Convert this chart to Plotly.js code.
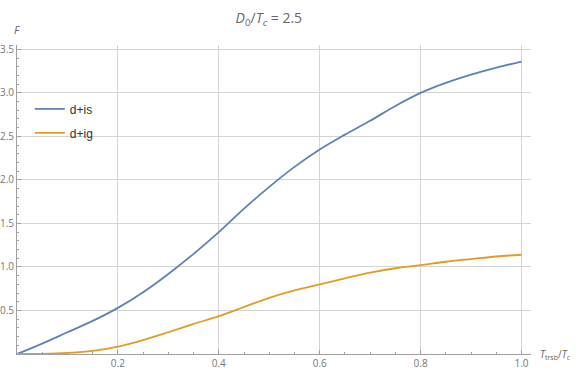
<!DOCTYPE html>
<html>
<head>
<meta charset="utf-8">
<script src="https://cdn.plot.ly/plotly-3.0.1.min.js"></script>
<style>html,body{margin:0;padding:0;background:#fff;}#chart{width:581px;height:372px;}</style>
</head>
<body>
<div id="chart"></div>
<script>
const xValues = [0, 0.05, 0.1, 0.15, 0.2, 0.25, 0.3, 0.35, 0.4, 0.45, 0.5, 0.55, 0.6, 0.65, 0.7, 0.75, 0.8, 0.85, 0.9, 0.95, 1.0];
const dIs = [0, 0.12, 0.25, 0.38, 0.53, 0.71, 0.92, 1.15, 1.40, 1.67, 1.92, 2.15, 2.35, 2.52, 2.68, 2.85, 3.00, 3.115, 3.21, 3.29, 3.36];
const dIg = [0, 0.002, 0.012, 0.035, 0.086, 0.16, 0.25, 0.345, 0.435, 0.54, 0.645, 0.73, 0.80, 0.87, 0.935, 0.985, 1.02, 1.06, 1.09, 1.12, 1.14];
const seriesNames = ['d+is', 'd+ig'];
const xTicks = [0.2, 0.4, 0.6, 0.8, 1.0];
const xTickText = ['0.2', '0.4', '0.6', '0.8', '1.0'];
const yTicks = [0.5, 1.0, 1.5, 2.0, 2.5, 3.0, 3.5];
const yTickText = ['0.5', '1.0', '1.5', '2.0', '2.5', '3.0', '3.5'];

const gridCol = '#d4d4d4';
const axisCol = '#a0a0a0';
const tickFont = {family: 'Open Sans, sans-serif', size: 10, color: '#777'};

const traces = [
  {x: xValues, y: dIs, name: seriesNames[0], legendgroup: 'a', mode: 'lines', line: {color: '#5e81b5', width: 1.8, shape: 'spline', smoothing: 1}},
  {x: xValues, y: dIg, name: seriesNames[1], legendgroup: 'b', mode: 'lines', line: {color: '#e19c24', width: 1.8, shape: 'spline', smoothing: 1}}
];

const layout = {
  width: 581, height: 372,
  margin: {l: 17, r: 50, t: 45, b: 18},
  paper_bgcolor: '#fff', plot_bgcolor: '#fff',
  title: {text: '<i>D</i><sub>0</sub>/<i>T</i><sub><i>c</i></sub> = 2.5', x: 0.49, xref: 'paper', y: 0.965, yref: 'container',
          font: {family: 'Open Sans, sans-serif', size: 14, color: '#666'}},
  xaxis: {range: [0, 1.0188], tickmode: 'array', tickvals: xTicks, ticktext: xTickText,
          showgrid: true, gridcolor: gridCol, gridwidth: 1, zeroline: false,
          showline: true, linecolor: axisCol, linewidth: 1,
          ticks: 'inside', ticklen: 4, tickcolor: axisCol, tickfont: tickFont,
          minor: {tickmode: 'linear', tick0: 0, dtick: 0.05, ticks: 'inside', ticklen: 2, tickcolor: axisCol, showgrid: false}},
  yaxis: {range: [0, 3.55], tickmode: 'array', tickvals: yTicks, ticktext: yTickText,
          showgrid: true, gridcolor: gridCol, gridwidth: 1, zeroline: false,
          showline: true, linecolor: axisCol, linewidth: 1,
          ticks: 'inside', ticklen: 4, tickcolor: axisCol, tickfont: tickFont,
          minor: {tickmode: 'linear', tick0: 0, dtick: 0.1, ticks: 'inside', ticklen: 2, tickcolor: axisCol, showgrid: false}},
  showlegend: true,
  legend: {x: 0.025, y: 0.84, xanchor: 'left', yanchor: 'top', bgcolor: 'rgba(0,0,0,0)',
           traceorder: 'grouped', tracegroupgap: 5,
           font: {family: 'Liberation Sans, Arial, sans-serif', size: 12, color: '#333'}},
  annotations: [
    {text: '<i>F</i>', xref: 'paper', yref: 'paper', x: 0, y: 1.05, xanchor: 'center', yanchor: 'middle', showarrow: false,
     font: {family: 'Open Sans, sans-serif', size: 11, color: '#666'}},
    {text: '<i>T</i><sub>trsb</sub>/<i>T</i><sub><i>c</i></sub>', xref: 'paper', yref: 'paper', x: 1.014, y: 0, xanchor: 'left', yanchor: 'middle', showarrow: false,
     font: {family: 'Open Sans, sans-serif', size: 10, color: '#666'}}
  ]
};

Plotly.newPlot('chart', traces, layout, {displayModeBar: false, staticPlot: true});
</script>
</body>
</html>
